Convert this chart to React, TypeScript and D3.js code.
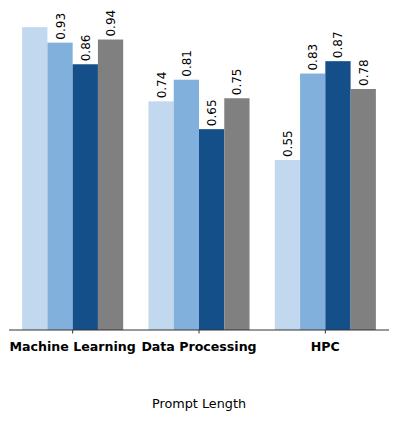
import React from "react";
import * as d3 from "d3";

const categories = ["Machine Learning", "Data Processing", "HPC"];
const seriesNames = ["A", "B", "C", "D"];
const series0 = [0.98, 0.74, 0.55];
const series1 = [0.93, 0.81, 0.83];
const series2 = [0.86, 0.65, 0.87];
const series3 = [0.94, 0.75, 0.78];
const showLabel0 = [false, true, true];
const colors = ["#c2d8ee", "#82b0dc", "#154f8a", "#808080"];
const xTitle = "Prompt Length";

export default function App() {
  const W = 397, H = 430;
  const axisLeft = 9, axisRight = 389, axisY = 330;
  const seriesValues = [series0, series1, series2, series3];
  const x0 = d3.scaleBand<string>().domain(categories).range([9.5, 388.5]).paddingInner(0.2).paddingOuter(0.1);
  const x1 = d3.scaleBand<string>().domain(seriesNames).range([0, x0.bandwidth()]);
  const y = d3.scaleLinear().domain([0, 1]).range([axisY, axisY - 309]);
  const font = "DejaVu Sans, sans-serif";
  return (
    <svg width={W} height={H} style={{ position: "absolute", left: 0, top: 0 }}>
      <rect x={0} y={0} width={W} height={H} fill="#fff" />
      {categories.map((c, ci) => (
        <g key={c}>
          {seriesNames.map((s, si) => {
            const v = seriesValues[si][ci];
            const bx = (x0(c) as number) + (x1(s) as number);
            const bw = x1.bandwidth();
            const top = y(v);
            const show = si !== 0 || showLabel0[ci];
            const cx = bx + bw / 2;
            return (
              <g key={s}>
                <rect x={bx} y={top} width={bw} height={axisY - top} fill={colors[si]} />
                {show && (
                  <text
                    transform={`translate(${cx + 4.5},${top - 3}) rotate(-90)`}
                    fontFamily={font}
                    fontSize={12}
                    fill="#000"
                  >
                    {v.toFixed(2)}
                  </text>
                )}
              </g>
            );
          })}
        </g>
      ))}
      <line x1={axisLeft} x2={axisRight} y1={axisY} y2={axisY} stroke="#333" strokeWidth={1} />
      {categories.map((c) => {
        const cx = (x0(c) as number) + x0.bandwidth() / 2;
        return (
          <g key={c}>
            <line x1={cx} x2={cx} y1={axisY} y2={axisY + 3.5} stroke="#333" strokeWidth={1} />
            <text x={cx} y={axisY + 20.5} textAnchor="middle" fontFamily={font} fontWeight="bold" fontSize={12.6} fill="#000">
              {c}
            </text>
          </g>
        );
      })}
      <text x={(axisLeft + axisRight) / 2} y={408} textAnchor="middle" fontFamily={font} fontSize={12.8} fill="#000">
        {xTitle}
      </text>
    </svg>
  );
}
